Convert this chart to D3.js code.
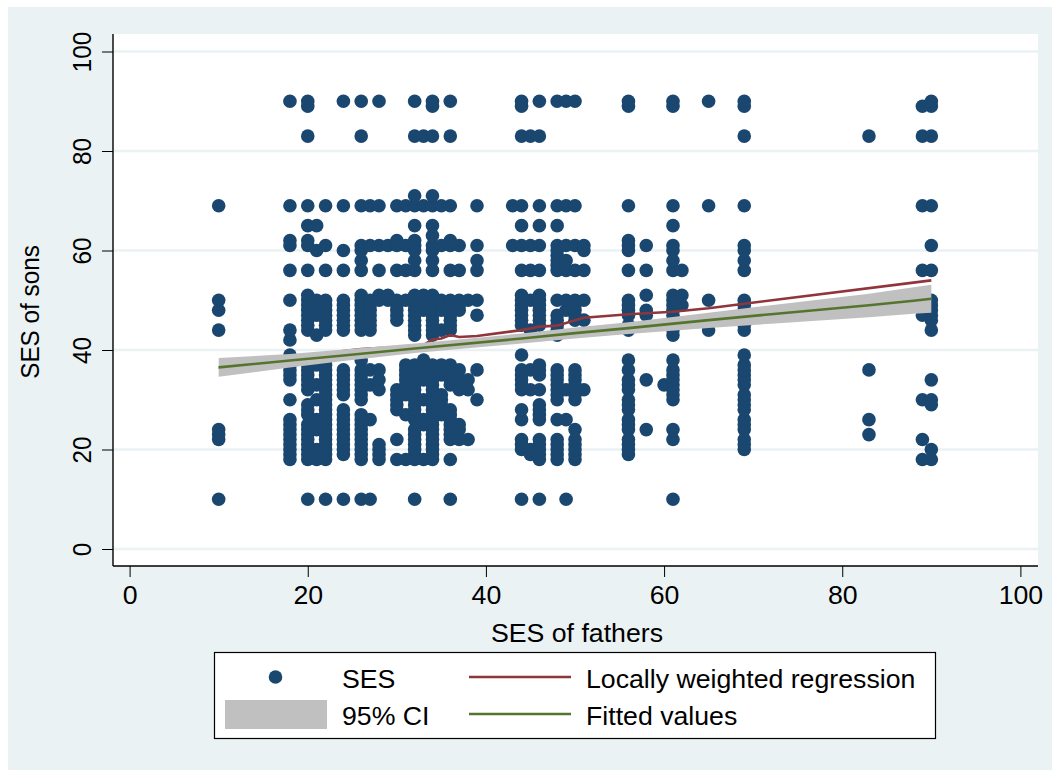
<!DOCTYPE html>
<html><head><meta charset="utf-8">
<script src="https://cdn.jsdelivr.net/npm/d3@7"></script>
<style>html,body{margin:0;padding:0;background:#fff}svg{display:block}text{font-family:"Liberation Sans",Arial,sans-serif;fill:#000}</style>
</head><body><svg id="c" width="1055" height="772"></svg>
<script>
const fatherSES=[10,18,20,21,22,24,26,27,28,29,30,31,32,33,34,35,36,37,38,39,43,44,45,46,48,49,50,51,56,58,60,61,62,65,69,83,89,90];
const sonSES=[
[10,22,23,24,44,48,50,69],
[18,19,20,21,22,23,24,25,26,30,34,35,36,37,38,39,42,44,50,56,61,62,69,90],
[10,18,19,20,21,22,23,24,25,27,28,29,32,33,34,35,36,37,38,44,45,46,47,48,49,50,51,56,61,62,65,69,83,89,90],
[18,19,20,24,25,26,30,33,37,43,47,48,49,50,60,65],
[10,18,19,20,21,22,23,24,25,26,27,28,29,30,31,32,33,34,35,36,37,38,44,45,46,47,48,49,50,56,61,69],
[10,19,20,21,22,23,24,25,26,27,28,31,32,33,34,35,36,44,45,46,47,48,49,50,56,60,69,90],
[10,18,19,20,21,22,23,24,25,26,27,30,31,32,33,34,35,36,38,44,45,46,47,48,49,50,51,56,58,60,61,69,83,90],
[10,26,33,36,44,45,46,47,48,49,50,61,69],
[18,19,20,21,32,34,36,50,51,56,61,69,90],
[50,51,61],
[18,22,28,29,30,31,32,46,47,48,49,50,56,61,62,69],
[18,27,31,32,33,34,35,36,37,50,56,61,69],
[10,18,19,20,21,22,23,24,26,27,28,29,30,31,32,33,34,35,36,37,43,44,45,46,47,48,49,50,51,56,58,60,61,62,65,69,71,83,90],
[18,25,26,30,34,35,37,38,48,49,50,51,69,83],
[18,19,20,21,22,23,24,25,26,27,28,29,30,31,32,33,34,35,36,37,43,44,45,46,47,48,49,50,51,56,58,60,61,63,65,69,71,83,89,90],
[27,28,29,30,31,35,36,37,44,48,49,50,61,69],
[10,18,22,23,24,25,26,27,28,33,34,35,36,37,44,45,46,47,48,49,50,56,61,62,69,83,90],
[22,24,25,32,34,36,48,49,50,56,61],
[22,32,34,50],
[30,36,47,50,56,58,61,69],
[61,69],
[10,20,21,22,26,28,32,33,34,35,36,39,45,46,47,48,49,50,51,56,61,65,69,83,89,90],
[19,20,32,36,44,50,56,61,83],
[10,18,19,20,21,22,26,27,28,29,32,35,36,37,45,46,47,48,49,50,51,56,61,65,69,83,90],
[18,19,20,21,22,26,30,31,32,33,34,35,36,43,44,45,46,47,50,56,57,58,59,60,61,65,69,90],
[10,26,32,48,50,56,58,61,69,90],
[18,19,20,21,22,24,30,31,32,33,34,35,36,46,47,48,49,50,56,61,69,90],
[32,46,50,56,60,61],
[19,20,21,22,24,25,26,28,29,30,32,33,34,36,38,44,45,47,48,49,50,56,60,61,62,69,89,90],
[24,34,47,48,51,56,61],
[33],
[10,22,24,30,31,32,33,34,35,36,38,43,44,45,47,48,49,50,51,56,58,60,61,65,69,89,90],
[49,51,56],
[44,50,69,90],
[20,21,22,24,25,26,28,29,30,31,33,34,35,36,37,39,44,45,46,47,48,49,50,56,58,60,61,69,83,89,90],
[23,26,36,83],
[18,22,30,47,56,69,83,89],
[18,20,29,30,34,44,46,47,48,49,50,56,61,69,83,89,90]
];
const lowessX=[10,18,20,22,24,26,28,30,32,33,34,35,36,37,39,44,46,48,50,51,56,61,65,69,90];
const lowessY=[36.4,37.8,38.3,39.3,39.8,40.2,40.4,40.5,40.8,41,42.1,42.3,43,42.6,42.8,44,44.7,44.9,46,46.5,47.2,47.7,48.4,49.3,54];
const fitX=[10,18,24,32,44,50,56,65,72,83,88,90];
const fitY=[36.5,37.9,38.9,40.3,42.3,43.4,44.4,46,47.2,49,49.9,50.3];
const ciLow=[34.6,36.5,37.8,39.4,41.3,42.3,43.2,44.4,45.3,46.6,47.3,47.5];
const ciHigh=[38.4,39.2,40.1,41.3,43.3,44.5,45.6,47.5,49,51.3,52.6,53.1];
const ticks=[0,20,40,60,80,100];
const legendLabels=["SES","Locally weighted regression","95% CI","Fitted values"];
const xLabel="SES of fathers", yLabel="SES of sons";

const svg=d3.select("#c");
const BG="#eaf2f3",BLUE="#1a476f",RED="#90353b",GREEN="#55752f",GREY="#c0c0c0";
const x=d3.scaleLinear().domain([0,100]).range([129.6,1020.4]);
const y=d3.scaleLinear().domain([0,100]).range([549,51.5]);
const L=113,R=1038,T=34,B=566;
const FS=26.7;
svg.append("rect").attr("x",8).attr("y",7).attr("width",1044).attr("height",763).attr("fill",BG);
svg.append("rect").attr("x",L).attr("y",T).attr("width",R-L).attr("height",B-T).attr("fill","#fff");
svg.append("g").selectAll("line").data(ticks).join("line").attr("x1",L).attr("x2",R).attr("y1",d=>y(d)).attr("y2",d=>y(d)).attr("stroke",BG).attr("stroke-width",2.6);
const pts=fatherSES.flatMap((f,i)=>sonSES[i].map(s=>[f,s]));
svg.append("g").selectAll("circle").data(pts).join("circle").attr("cx",d=>x(d[0])).attr("cy",d=>y(d[1])).attr("r",6.8).attr("fill",BLUE);
const line=d3.line().x(d=>x(d[0])).y(d=>y(d[1]));
svg.append("path").attr("d",line(lowessX.map((v,i)=>[v,lowessY[i]]))).attr("fill","none").attr("stroke",RED).attr("stroke-width",2.6);
svg.append("path").attr("d",d3.area().x((d,i)=>x(fitX[i])).y0((d,i)=>y(ciLow[i])).y1((d,i)=>y(ciHigh[i]))(fitX)).attr("fill",GREY);
svg.append("path").attr("d",line(fitX.map((v,i)=>[v,fitY[i]]))).attr("fill","none").attr("stroke",GREEN).attr("stroke-width",2.6);
const ax=svg.append("g").attr("transform",`translate(0,${B})`).call(d3.axisBottom(x).tickValues(ticks).tickSize(11).tickPadding(8));
ax.select(".domain").attr("d",`M${L},0H${R}`).attr("stroke","#000").attr("stroke-width",1.4);
ax.selectAll("line").attr("stroke","#000").attr("stroke-width",1);
ax.selectAll("text").attr("font-size",FS).attr("font-family",'"Liberation Sans"');
const ay=svg.append("g").attr("transform",`translate(${L},0)`).call(d3.axisLeft(y).tickValues(ticks).tickSize(11));
ay.select(".domain").attr("d",`M0,${T}V${B}`).attr("stroke","#000").attr("stroke-width",1.4);
ay.selectAll("line").attr("stroke","#000").attr("stroke-width",1);
ay.selectAll("text").attr("font-size",FS).attr("font-family",'"Liberation Sans"').attr("text-anchor","middle").attr("dy",null)
 .attr("x",null).attr("y",null).attr("transform","translate(-22,0) rotate(-90) scale(0.91,1)");
svg.append("text").attr("x",577).attr("y",642).attr("text-anchor","middle").attr("font-size",FS).text(xLabel);
svg.append("text").attr("transform","translate(39,312) rotate(-90) scale(0.91,1)").attr("text-anchor","middle").attr("font-size",FS).text(yLabel);
const lg=svg.append("g");
lg.append("rect").attr("x",214.5).attr("y",652.5).attr("width",721).attr("height",86).attr("fill","#fff").attr("stroke","#000").attr("stroke-width",1.2);
lg.append("circle").attr("cx",275.5).attr("cy",677).attr("r",6.8).attr("fill",BLUE);
lg.append("rect").attr("x",225).attr("y",700).attr("width",102).attr("height",29).attr("fill",GREY);
lg.append("line").attr("x1",469).attr("x2",571).attr("y1",677).attr("y2",677).attr("stroke",RED).attr("stroke-width",2.6);
lg.append("line").attr("x1",469).attr("x2",571).attr("y1",714).attr("y2",714).attr("stroke",GREEN).attr("stroke-width",2.6);
[[342,688],[586,688],[342,725],[586,725]].forEach((p,i)=>lg.append("text").attr("x",p[0]).attr("y",p[1]).attr("font-size",FS).text(legendLabels[i]));
</script></body></html>
